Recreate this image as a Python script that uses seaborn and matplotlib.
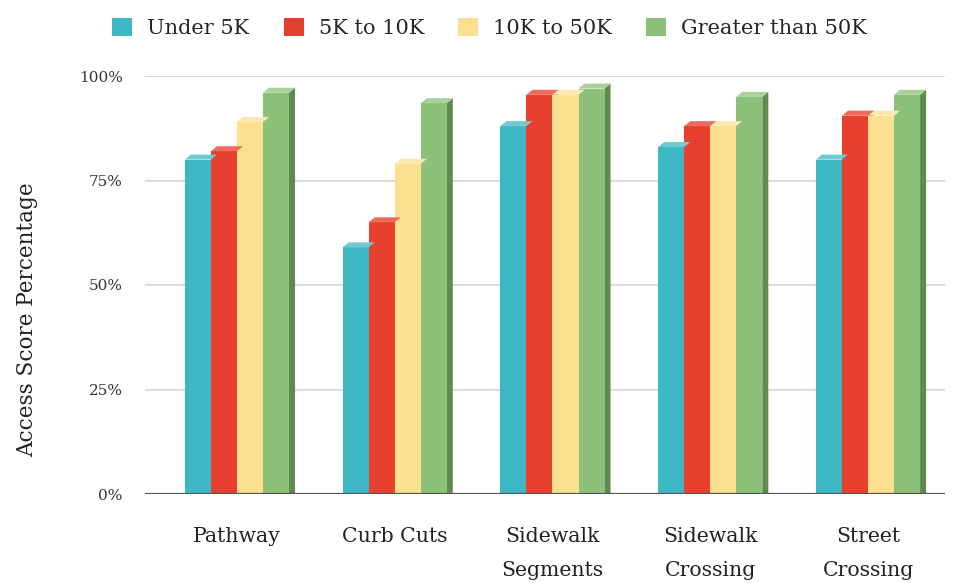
import matplotlib
matplotlib.use("Agg")
import matplotlib.pyplot as plt
from matplotlib.patches import Polygon
import seaborn as sns
import pandas as pd

features = ["Pathway", "Curb Cuts", "Sidewalk\nSegments", "Sidewalk\nCrossing", "Street\nCrossing"]
groups = ["Under 5K", "5K to 10K", "10K to 50K", "Greater than 50K"]
under_5k = [80, 59, 88, 83, 80]
k5_to_10k = [82, 65, 95.5, 88, 90.5]
k10_to_50k = [89, 79, 95.5, 88, 90.5]
over_50k = [96, 93.5, 97, 95, 95.5]
y_ticks = [0, 25, 50, 75, 100]

front_colors = ["#3fb8c5", "#e8402f", "#fde08f", "#8dc17a"]
side_colors = ["#2b8791", "#a92a1f", "#c3a56c", "#5f8a52"]
top_colors = ["#6fcad3", "#ef6a5c", "#fde9b0", "#a9d199"]

rows = []
for g, vals in zip(groups, [under_5k, k5_to_10k, k10_to_50k, over_50k]):
    for f, v in zip(features, vals):
        rows.append({"feature": f, "group": g, "value": v})
df = pd.DataFrame(rows)

sns.set_theme(style="white")
plt.rcParams["font.family"] = ["DejaVu Serif"]

fig = plt.figure(figsize=(9.62, 5.83), dpi=100)
ax = fig.add_axes([145 / 962, 89 / 583, 800 / 962, 418 / 583])

sns.barplot(data=df, x="feature", y="value", hue="group", order=features,
            hue_order=groups, palette=front_colors, width=0.66, saturation=1,
            dodge=True, ax=ax, legend=False, linewidth=0, zorder=3)

ax.set_xlim(-0.583, 4.488)
ax.set_ylim(0, 100)

# pseudo-3D depth: right side face and top face of each bar
px_per_x = 800 / (4.488 + 0.583)
dx = 6 / px_per_x
dy = 5 / 4.18
for ci, cont in enumerate(ax.containers):
    for bar in cont:
        x0 = bar.get_x()
        w = bar.get_width()
        h = bar.get_height()
        x1 = x0 + w
        side = Polygon([(x1, 0), (x1 + dx, 0), (x1 + dx, h + dy), (x1, h)],
                       closed=True, facecolor=side_colors[ci], edgecolor="none",
                       zorder=2.9, clip_on=False)
        top = Polygon([(x0, h), (x0 + dx, h + dy), (x1 + dx, h + dy), (x1, h)],
                      closed=True, facecolor=top_colors[ci], edgecolor="none",
                      zorder=3.1, clip_on=False)
        ax.add_patch(side)
        ax.add_patch(top)

ax.set_yticks(y_ticks)
ax.set_yticklabels([f"{t}%" for t in y_ticks], fontsize=11, color="#333333")
ax.grid(axis="y", color="#dadada", linewidth=1.4, zorder=0)
ax.axhline(0, color="#555555", linewidth=1.6, zorder=4)
for s in ["top", "right", "left", "bottom"]:
    ax.spines[s].set_visible(False)
ax.tick_params(axis="y", length=0, pad=16)
ax.tick_params(axis="x", length=0, pad=24)
for lbl in ax.get_xticklabels():
    lbl.set_fontsize(14.7)
    lbl.set_linespacing(1.95)
    lbl.set_color("#222222")

ax.set_xlabel("")
ax.set_ylabel("Access Score Percentage", fontsize=15.5, color="#222222")
ax.yaxis.set_label_coords(-0.133, 0.416)

handles = [plt.Rectangle((0, 0), 1, 1, facecolor=c, edgecolor="none") for c in front_colors]
fig.legend(handles, groups, loc="upper center", bbox_to_anchor=(0.509, 1.002), ncol=4,
           frameon=False, fontsize=15, handlelength=0.96, handleheight=0.96,
           handletextpad=0.72, columnspacing=1.64)

fig.savefig("out.png", dpi=100, facecolor="white")
